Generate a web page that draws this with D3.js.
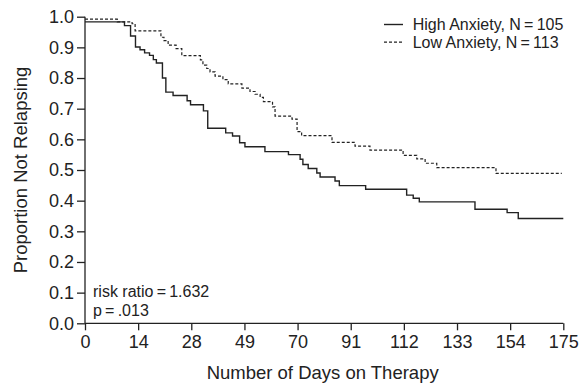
<!DOCTYPE html>
<html>
<head>
<meta charset="utf-8">
<script src="https://cdn.jsdelivr.net/npm/d3@7"></script>
<style>
  html, body { margin: 0; padding: 0; background: #fff; }
  svg { display: block; }
  text { font-family: "Liberation Sans", Arial, Helvetica, sans-serif; fill: #222; }
</style>
</head>
<body>
<svg id="chart" width="586" height="387"></svg>
<script>
// ---- data ----
const xTicks = [0, 14, 28, 49, 70, 91, 112, 133, 154, 175];
const yTicks = [0, 0.1, 0.2, 0.3, 0.4, 0.5, 0.6, 0.7, 0.8, 0.9, 1.0];

const highDays = [0, 10.4, 12.0, 13.3, 14.5, 15.7, 17.0, 18.0, 18.8, 20.4, 21.3, 23.2, 26.9, 27.8,
  32.8, 34.5, 41.6, 44.3, 47.1, 49.2, 57.1, 66.4, 71.0, 72.1, 74.2, 77.6, 78.9, 84.8, 86.5,
  96.9, 113.1, 115.7, 118.1, 140.1, 152.8, 157.2, 175];
const highSurv = [0.983, 0.971, 0.937, 0.901, 0.892, 0.882, 0.874, 0.860, 0.849, 0.800, 0.754, 0.743, 0.726, 0.713,
  0.693, 0.636, 0.621, 0.611, 0.589, 0.576, 0.560, 0.550, 0.535, 0.518, 0.505, 0.490, 0.477, 0.464, 0.449,
  0.437, 0.418, 0.408, 0.396, 0.372, 0.361, 0.342, 0.342];

const lowDays = [0, 8.5, 12.4, 13.2, 20.0, 20.8, 21.9, 24.0, 25.5, 31.6, 32.6, 34.1, 35.4, 37.4, 40.5, 42.6,
  48.0, 51.2, 53.2, 55.2, 56.5, 60.1, 61.1, 67.8, 69.8, 71.6, 83.6, 92.7, 98.6, 111.7, 117.1, 120.4,
  125.0, 148.4, 174.4];
const lowSurv = [0.992, 0.983, 0.977, 0.954, 0.933, 0.922, 0.907, 0.896, 0.873, 0.859, 0.842, 0.831, 0.820, 0.806, 0.795, 0.781,
  0.767, 0.756, 0.747, 0.737, 0.723, 0.706, 0.676, 0.666, 0.625, 0.612, 0.590, 0.578, 0.565, 0.548, 0.536, 0.522,
  0.508, 0.489, 0.489];

const seriesNames = ["High Anxiety, N\u2009=\u2009105", "Low Anxiety, N\u2009=\u2009113"];
const annotation = ["risk ratio\u2009=\u20091.632", "p\u2009=\u2009.013"];
const xTitle = "Number of Days on Therapy";
const yTitle = "Proportion Not Relapsing";

// ---- layout ----
const svg = d3.select("#chart");
const pLeft = 85, pRight = 563.3, pTop = 16.7, pBottom = 323.3;
const ink = "#222";

const x = d3.scaleLinear()
  .domain(xTicks)
  .range(xTicks.map((d, i) => pLeft + (pRight - pLeft) * i / (xTicks.length - 1)));
const y = d3.scaleLinear().domain([0, 1]).range([pBottom, pTop]);

// axes
const xAxis = svg.append("g").attr("transform", `translate(0,${pBottom})`)
  .call(d3.axisBottom(x).tickValues(xTicks).tickFormat(d3.format("d")).tickSizeOuter(0).tickSize(7).tickPadding(5));
const yAxis = svg.append("g").attr("transform", `translate(${pLeft},0)`)
  .call(d3.axisLeft(y).tickValues(yTicks).tickFormat(d3.format(".1f")).tickSizeOuter(0).tickSize(8).tickPadding(3));

[xAxis, yAxis].forEach(g => {
  g.select(".domain").attr("stroke", ink).attr("stroke-width", 1.3);
  g.selectAll(".tick line").attr("stroke", ink).attr("stroke-width", 1.3);
  g.selectAll(".tick text").attr("fill", ink)
    .style("font-family", '"Liberation Sans", Arial, sans-serif').style("font-size", "18px");
});
xAxis.select(".domain").attr("d", `M${pLeft},0H${pRight}`);
yAxis.select(".domain").attr("d", `M0,${pBottom}V${pTop}`);

// titles
svg.append("text").attr("x", (pLeft + pRight) / 2 - 1.5).attr("y", 379)
  .attr("text-anchor", "middle").style("font-size", "18.5px").text(xTitle);
svg.append("text").attr("transform", `translate(27,${(pTop + pBottom) / 2}) rotate(-90)`)
  .attr("text-anchor", "middle").style("font-size", "18.5px").text(yTitle);

// curves
const line = d3.line().x(d => x(d[0])).y(d => y(d[1])).curve(d3.curveStepAfter);
const highData = highDays.map((d, i) => [d, highSurv[i]]);
const lowData = lowDays.map((d, i) => [d, lowSurv[i]]);

svg.append("path").datum(lowData).attr("d", line)
  .attr("fill", "none").attr("stroke", ink).attr("stroke-width", 1.2).attr("stroke-dasharray", "3,2");
svg.append("path").datum(highData).attr("d", line)
  .attr("fill", "none").attr("stroke", ink).attr("stroke-width", 1.4);

// legend
const legend = svg.append("g");
const legendRows = [
  { name: seriesNames[0], dash: null, w: 1.4 },
  { name: seriesNames[1], dash: "3,2", w: 1.2 }
];
legendRows.forEach((r, i) => {
  const by = 30 + i * 17.7;
  legend.append("line").attr("x1", 384).attr("x2", 403).attr("y1", by - 5.5).attr("y2", by - 5.5)
    .attr("stroke", ink).attr("stroke-width", r.w).attr("stroke-dasharray", r.dash);
  legend.append("text").attr("x", 412.7).attr("y", by).style("font-size", "16px").text(r.name);
});

// annotation
annotation.forEach((t, i) => {
  svg.append("text").attr("x", 93).attr("y", 296.7 + i * 19.3).style("font-size", "16px").text(t);
});
</script>
</body>
</html>
